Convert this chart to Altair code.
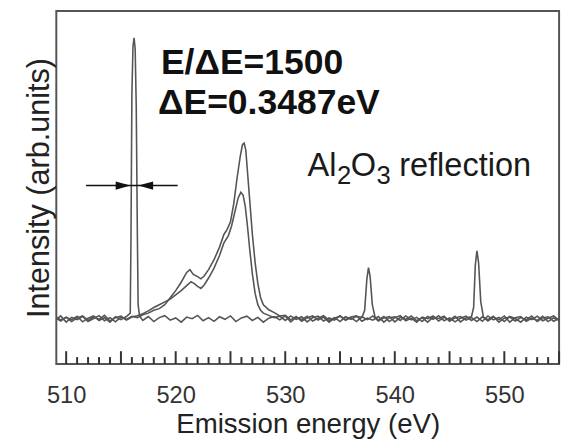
import altair as alt
import pandas as pd

# ---------------- data (energy eV, intensity arb.) ----------------
elastic = [
    (509.0, 0.004), (509.5, -0.008), (510.0, 0.006), (510.5, -0.004), (511.0, 0.009),
    (511.5, -0.011), (512.0, 0.002), (512.5, 0.010), (513.0, -0.006), (513.5, 0.004),
    (514.0, -0.012), (514.5, 0.007), (515.0, -0.003), (515.5, 0.008), (515.85, 0.02),
    (515.92, 0.3), (516.0, 0.8), (516.1, 0.97), (516.2, 1.0), (516.3, 0.96),
    (516.4, 0.75), (516.5, 0.3), (516.57, 0.05), (516.7, 0.01), (517.0, -0.006),
    (517.5, 0.008), (518.0, -0.01), (518.5, 0.004), (519.0, 0.011), (519.5, -0.005),
    (520.0, 0.003), (520.5, -0.012), (521.0, 0.006), (521.5, 0.0), (522.0, 0.012),
    (522.5, -0.007), (523.0, 0.004), (523.5, -0.009), (524.0, 0.007), (524.5, -0.002),
    (525.0, 0.01), (525.5, -0.01), (526.0, 0.003), (526.5, 0.009), (527.0, -0.006),
    (527.5, 0.005), (528.0, -0.012), (528.5, 0.002), (529.0, 0.008), (529.5, -0.004),
    (530.0, 0.01), (530.5, -0.011), (531.0, 0.005), (531.5, -0.003), (532.0, 0.009),
    (532.5, -0.008), (533.0, 0.002), (533.5, 0.011), (534.0, -0.006), (534.5, 0.004),
    (535.0, -0.01), (535.5, 0.007), (536.0, -0.002), (536.5, 0.009), (537.0, 0.004),
    (537.25, 0.03), (537.45, 0.14), (537.6, 0.182), (537.75, 0.15), (537.95, 0.05),
    (538.2, 0.006), (538.5, -0.005), (539.0, 0.008), (539.5, -0.01), (540.0, 0.004),
    (540.5, 0.011), (541.0, -0.007), (541.5, 0.002), (542.0, -0.012), (542.5, 0.006),
    (543.0, 0.0), (543.5, 0.01), (544.0, -0.008), (544.5, 0.005), (545.0, -0.004),
    (545.5, 0.009), (546.0, -0.011), (546.5, 0.003), (547.0, 0.007), (547.2, 0.04),
    (547.35, 0.19), (547.5, 0.242), (547.65, 0.2), (547.85, 0.06), (548.1, 0.005),
    (548.5, -0.008), (549.0, 0.006), (549.5, -0.003), (550.0, 0.01), (550.5, -0.012),
    (551.0, 0.004), (551.5, 0.008), (552.0, -0.009), (552.5, 0.002), (553.0, -0.006),
    (553.5, 0.009), (554.0, -0.01), (554.5, 0.003), (555.0, -0.005),
]

emission_a = [
    (509.0, -0.006), (509.5, 0.01), (510.0, -0.012), (510.5, 0.005), (511.0, -0.003),
    (511.5, 0.008), (512.0, -0.01), (512.5, 0.001), (513.0, 0.011), (513.5, -0.007),
    (514.0, 0.004), (514.5, -0.011), (515.0, 0.006), (515.5, -0.002), (516.0, 0.009),
    (516.5, 0.004), (517.0, 0.014), (517.5, 0.02), (518.0, 0.03), (518.5, 0.036),
    (519.0, 0.05), (519.5, 0.075), (520.0, 0.1), (520.5, 0.13), (521.0, 0.165),
    (521.3, 0.175), (521.6, 0.158), (522.0, 0.15), (522.3, 0.142), (522.6, 0.152),
    (523.0, 0.175), (523.5, 0.21), (524.0, 0.255), (524.4, 0.3), (524.7, 0.318),
    (525.0, 0.345), (525.3, 0.41), (525.6, 0.5), (525.9, 0.58), (526.1, 0.62),
    (526.25, 0.625), (526.4, 0.6), (526.6, 0.5), (526.8, 0.4), (527.0, 0.3),
    (527.25, 0.2), (527.5, 0.125), (527.75, 0.075), (528.0, 0.05), (528.5, 0.032),
    (529.0, 0.022), (529.5, 0.01), (530.0, 0.012), (530.5, -0.004), (531.0, 0.008),
    (531.5, -0.009), (532.0, 0.003), (532.5, 0.01), (533.0, -0.005), (533.5, 0.006),
    (534.0, -0.012), (534.5, 0.002), (535.0, 0.009), (535.5, -0.006), (536.0, 0.004),
    (536.5, -0.01), (537.0, 0.007), (537.5, -0.003), (538.0, 0.01), (538.5, -0.008),
    (539.0, 0.003), (539.5, 0.008), (540.0, -0.011), (540.5, 0.005), (541.0, -0.002),
    (541.5, 0.01), (542.0, -0.007), (542.5, 0.004), (543.0, -0.012), (543.5, 0.006),
    (544.0, 0.001), (544.5, 0.009), (545.0, -0.009), (545.5, 0.003), (546.0, 0.008),
    (546.5, -0.005), (547.0, 0.004), (547.5, -0.01), (548.0, 0.007), (548.5, -0.003),
    (549.0, 0.009), (549.5, -0.012), (550.0, 0.002), (550.5, 0.006), (551.0, -0.008),
    (551.5, 0.004), (552.0, -0.004), (552.5, 0.01), (553.0, -0.01), (553.5, 0.003),
    (554.0, 0.007), (554.5, -0.009), (555.0, 0.002),
]

emission_b = [
    (509.0, 0.008), (509.5, -0.004), (510.0, 0.005), (510.5, -0.01), (511.0, 0.003),
    (511.5, 0.01), (512.0, -0.006), (512.5, 0.007), (513.0, -0.002), (513.5, 0.012),
    (514.0, -0.008), (514.5, 0.004), (515.0, 0.009), (515.5, -0.005), (516.0, 0.006),
    (516.5, 0.011), (517.0, 0.018), (517.5, 0.028), (518.0, 0.04), (518.5, 0.05),
    (519.0, 0.06), (519.5, 0.07), (520.0, 0.085), (520.5, 0.1), (521.0, 0.118),
    (521.4, 0.132), (521.7, 0.125), (522.0, 0.115), (522.3, 0.108), (522.6, 0.12),
    (523.0, 0.145), (523.5, 0.18), (524.0, 0.225), (524.4, 0.27), (524.8, 0.295),
    (525.1, 0.33), (525.4, 0.38), (525.7, 0.43), (525.95, 0.45), (526.15, 0.44),
    (526.35, 0.4), (526.55, 0.33), (526.75, 0.25), (527.0, 0.16), (527.25, 0.09),
    (527.5, 0.05), (527.75, 0.03), (528.0, 0.02), (528.5, 0.012), (529.0, 0.004),
    (529.5, 0.009), (530.0, -0.006), (530.5, 0.01), (531.0, -0.002), (531.5, 0.007),
    (532.0, -0.011), (532.5, 0.004), (533.0, 0.009), (533.5, -0.008), (534.0, 0.003),
    (534.5, -0.005), (535.0, 0.011), (535.5, -0.003), (536.0, 0.006), (536.5, 0.01),
    (537.0, -0.009), (537.5, 0.002), (538.0, -0.005), (538.5, 0.008), (539.0, -0.012),
    (539.5, 0.004), (540.0, 0.007), (540.5, -0.006), (541.0, 0.01), (541.5, -0.004),
    (542.0, 0.005), (542.5, -0.01), (543.0, 0.008), (543.5, -0.002), (544.0, 0.011),
    (544.5, -0.007), (545.0, 0.003), (545.5, -0.011), (546.0, 0.002), (546.5, 0.009),
    (547.0, -0.006), (547.5, 0.006), (548.0, -0.009), (548.5, 0.01), (549.0, -0.004),
    (549.5, 0.005), (550.0, -0.01), (550.5, 0.008), (551.0, 0.001), (551.5, -0.012),
    (552.0, 0.006), (552.5, -0.003), (553.0, 0.009), (553.5, -0.007), (554.0, 0.002),
    (554.5, 0.01), (555.0, -0.006),
]

x_label_values = [510, 520, 530, 540, 550]
major_ticks = [510, 515, 520, 525, 530, 535, 540, 545, 550, 555]
minor_ticks = [511, 512, 513, 514, 516, 517, 518, 519, 521, 522, 523, 524,
               526, 527, 528, 529, 531, 532, 533, 534, 536, 537, 538, 539,
               541, 542, 543, 544, 546, 547, 548, 549, 551, 552, 553, 554]

# annotations (text and data-space anchor)
note_text = ["E/ΔE=1500", "ΔE=0.3487eV"]
note_x = [518.65, 518.38]
note_y = [0.870, 0.730]

formula_text = ["Al", "2", "O", "3", "reflection"]
formula_x = [532.04, 534.73, 535.99, 538.33, 540.40]
formula_y = [0.509, 0.481, 0.509, 0.481, 0.509]
formula_size = [33, 26, 33, 26, 33]

arrow_x = [511.82, 520.18]
arrow_y = 0.474
arrow_tip_right = 515.87   # arrowhead pointing right
arrow_tip_left = 516.59    # arrowhead pointing left

# ---------------- build ----------------
rows = []
for name, pts in [("elastic", elastic), ("emission A", emission_a), ("emission B", emission_b)]:
    for x, y in pts:
        rows.append({"series": name, "x": x, "y": y})
lines_df = pd.DataFrame(rows)

xscale = alt.Scale(domain=[509.1, 555.0], nice=False, zero=False)
yscale = alt.Scale(domain=[-0.161, 1.095], nice=False, zero=False)

FONT = "Liberation Sans, Arial, sans-serif"

xaxis = alt.Axis(values=x_label_values, ticks=False, domain=False, grid=False,
                 labelFontSize=24, labelFont=FONT, labelColor="#333", labelPadding=20,
                 labelFlush=False,
                 title="Emission energy (eV)", titleFontSize=28, titleFont=FONT,
                 titleFontWeight="normal", titleColor="#222", titlePadding=3)
yaxis = alt.Axis(labels=False, ticks=False, domain=False, grid=False, minExtent=0,
                 title="Intensity (arb.units)", titleFontSize=31, titleFont=FONT,
                 titleFontWeight="normal", titleColor="#222", titlePadding=1)


def X(field="x"):
    return alt.X(f"{field}:Q", scale=xscale, axis=xaxis)


def Y(field="y"):
    return alt.Y(f"{field}:Q", scale=yscale, axis=yaxis)


lines = alt.Chart(lines_df).mark_line(color="#555", strokeWidth=1.6, clip=True).encode(
    x=X(), y=Y(), detail="series:N", order="x:Q"
)

H = 358
minor = alt.Chart(pd.DataFrame({"x": minor_ticks})).mark_rule(color="#333", strokeWidth=2).encode(
    x=X(), y=alt.value(H), y2=alt.value(H - 7)
)
major = alt.Chart(pd.DataFrame({"x": major_ticks})).mark_rule(color="#333", strokeWidth=2).encode(
    x=X(), y=alt.value(H), y2=alt.value(H - 13)
)

arrow_line = alt.Chart(pd.DataFrame({"x": [arrow_x[0]], "x2": [arrow_x[1]], "y": [arrow_y]})).mark_rule(
    color="#111", strokeWidth=1.6
).encode(x=X(), x2="x2:Q", y=Y())

head_r = alt.Chart(pd.DataFrame({"x": [arrow_tip_right], "y": [arrow_y]})).mark_point(
    shape="M 0 0 L -2 -0.55 L -2 0.55 Z", size=225, filled=True, color="#111", opacity=1
).encode(x=X(), y=Y())
head_l = alt.Chart(pd.DataFrame({"x": [arrow_tip_left], "y": [arrow_y]})).mark_point(
    shape="M 0 0 L 2 -0.55 L 2 0.55 Z", size=225, filled=True, color="#111", opacity=1
).encode(x=X(), y=Y())

notes = alt.Chart(pd.DataFrame({"x": note_x, "y": note_y, "t": note_text})).mark_text(
    align="left", baseline="alphabetic", font=FONT,
    fontSize=36, fontWeight="bold", color="#111"
).encode(x=X(), y=Y(), text="t:N")

formula = alt.Chart(pd.DataFrame({"x": formula_x, "y": formula_y, "t": formula_text,
                                  "s": formula_size})).mark_text(
    align="left", baseline="alphabetic", font=FONT, color="#1a1a1a"
).encode(x=X(), y=Y(), text="t:N", size=alt.Size("s:Q", scale=None, legend=None))

chart = alt.layer(lines, minor, major, arrow_line, head_r, head_l, notes, formula).properties(
    width=510, height=H,
    autosize=alt.AutoSizeParams(type="none"),
    padding={"left": 49, "top": 0, "right": 6, "bottom": 75},
    background="white",
).configure_view(stroke="#555", strokeWidth=2)

chart.save("out.html", embed_options={"renderer": "svg", "actions": False})
